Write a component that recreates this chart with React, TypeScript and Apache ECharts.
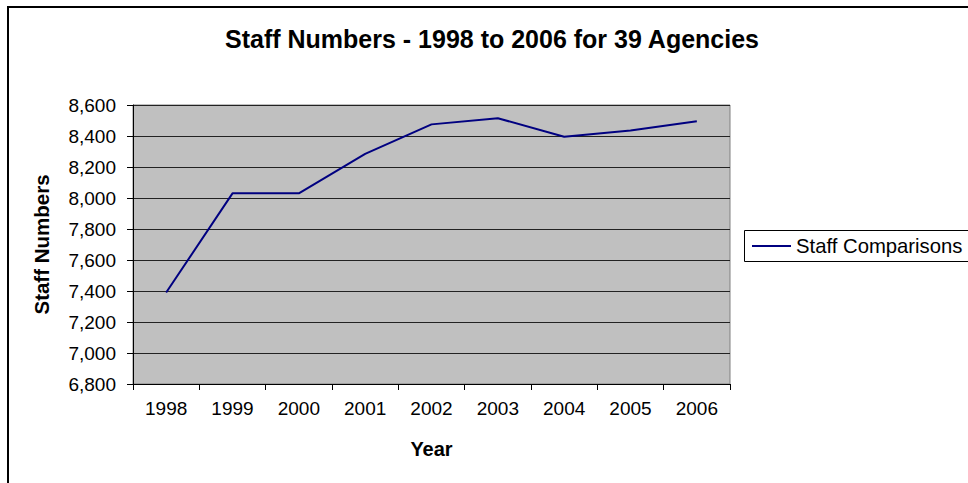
import React, { useEffect, useRef } from "react";
import * as echarts from "echarts";

const years = ["1998", "1999", "2000", "2001", "2002", "2003", "2004", "2005", "2006"];
const staffComparisons = [7390, 8030, 8030, 8285, 8475, 8515, 8395, 8435, 8495];
const yMin = 6800;
const yMax = 8600;
const yStep = 200;

const FONT = '"Liberation Sans", Arial, sans-serif';

export default function App() {
  const ref = useRef<HTMLDivElement>(null);
  useEffect(() => {
    if (!ref.current) return;
    const chart = echarts.init(ref.current, null, { renderer: "svg" });
    chart.setOption({
      animation: false,
      backgroundColor: "#ffffff",
      textStyle: { fontFamily: FONT, color: "#000" },
      title: {
        text: "Staff Numbers - 1998 to 2006 for 39 Agencies",
        left: 492,
        textAlign: "center",
        top: 26,
        padding: 0,
        textStyle: { fontFamily: FONT, fontSize: 25, fontWeight: "bold", color: "#000" },
      },
      graphic: [
        {
          type: "rect",
          z: -10,
          shape: { x: 8, y: 7, width: 1100, height: 1000 },
          style: { fill: "transparent", stroke: "#000", lineWidth: 2 },
        },
        {
          type: "rect",
          z: -10,
          shape: { x: 744.5, y: 230.5, width: 400, height: 31 },
          style: { fill: "transparent", stroke: "#000", lineWidth: 1 },
        },
      ],
      legend: {
        left: 752,
        top: 236,
        padding: 0,
        icon: "rect",
        itemWidth: 39,
        itemHeight: 2,
        textStyle: { fontFamily: FONT, fontSize: 20.3, color: "#000" },
        data: [{ name: "Staff Comparisons", itemStyle: { color: "#000080" } }],
      },
      grid: {
        left: 133,
        right: 238,
        top: 105,
        bottom: 99,
        show: true,
        backgroundColor: "#C0C0C0",
        borderColor: "#808080",
        borderWidth: 1,
      },
      xAxis: {
        type: "category",
        data: years,
        boundaryGap: true,
        name: "Year",
        nameLocation: "middle",
        nameGap: 55,
        nameTextStyle: { fontFamily: FONT, fontSize: 20, fontWeight: "bold", color: "#000" },
        axisLine: { show: true, lineStyle: { color: "#000", width: 1 } },
        axisTick: { show: true, length: 6, inside: false, lineStyle: { color: "#000" } },
        axisLabel: { fontFamily: FONT, fontSize: 19, color: "#000", margin: 15 },
        splitLine: { show: false },
      },
      yAxis: {
        type: "value",
        min: yMin,
        max: yMax,
        interval: yStep,
        name: "Staff Numbers",
        nameLocation: "middle",
        nameGap: 81,
        nameRotate: 90,
        nameTextStyle: { fontFamily: FONT, fontSize: 20.5, fontWeight: "bold", color: "#000" },
        axisLine: { show: true, lineStyle: { color: "#000", width: 1 } },
        axisTick: { show: true, length: 6, inside: false, lineStyle: { color: "#000" } },
        axisLabel: {
          fontFamily: FONT,
          fontSize: 19,
          color: "#000",
          margin: 17,
          formatter: (v: number) => v.toLocaleString("en-US"),
        },
        splitLine: { show: true, lineStyle: { color: "#222", width: 1 } },
      },
      series: [
        {
          name: "Staff Comparisons",
          type: "line",
          data: staffComparisons,
          showSymbol: false,
          symbol: "none",
          lineStyle: { color: "#000080", width: 2 },
          itemStyle: { color: "#000080" },
        },
      ],
    });
    return () => chart.dispose();
  }, []);
  return (
    <div
      ref={ref}
      style={{ position: "fixed", left: 0, top: 0, width: 968, height: 483 }}
    />
  );
}
